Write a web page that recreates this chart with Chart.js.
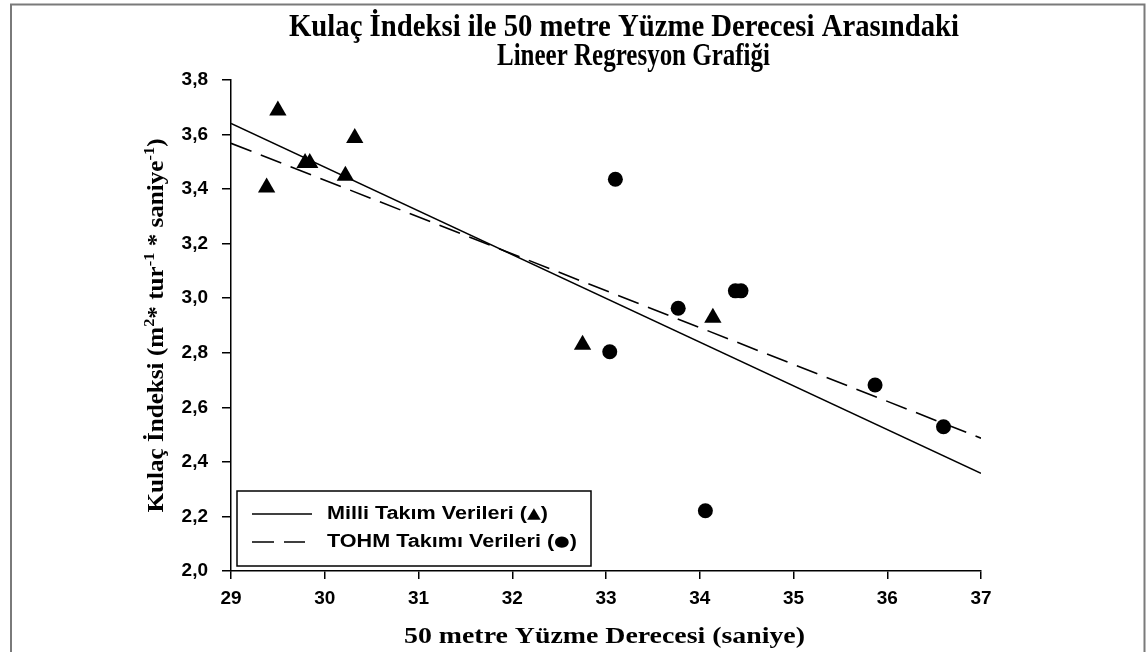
<!DOCTYPE html>
<html lang="tr">
<head>
    <meta charset="UTF-8">
    <title>Kulaç İndeksi - Lineer Regresyon</title>
    <script src="https://cdn.jsdelivr.net/npm/chart.js"></script>
    <style>
        html, body { margin: 0; padding: 0; background: #fff; }
        canvas { display: block; }
    </style>
</head>
<body>
    <canvas id="chart" width="1146" height="652"></canvas>

    <script>
        // Milli Takim (triangles)
        const milliX = [29.38, 29.50, 29.79, 29.84, 30.22, 30.32, 32.75, 34.14];
        const milliY = [3.406, 3.688, 3.496, 3.496, 3.449, 3.587, 2.829, 2.928];
        // TOHM Takimi (circles)
        const tohmX = [33.04, 33.10, 33.77, 34.06, 34.38, 34.44, 35.87, 36.60];
        const tohmY = [2.804, 3.436, 2.963, 2.221, 3.027, 3.027, 2.682, 2.529];
        // regression lines, read at the ends of the x axis
        const fitX = [29, 37];
        const milliFitY = [3.641, 2.358];
        const tohmFitY = [3.568, 2.487];

        const titleLines = ['Kulaç İndeksi ile 50 metre Yüzme Derecesi Arasındaki', 'Lineer Regresyon Grafiği'];
        const xTitle = '50 metre Yüzme Derecesi (saniye)';
        const yTitleParts = [
            ['Kulaç İndeksi (m', 0], ['2', 1], ['* tur', 0], ['-1', 1],
            [' * saniye', 0], ['-1', 1], [')', 0]
        ];
        const legendParts = [
            [['Milli Takım Verileri (', 0], ['▲', 2], [')', 0]],
            [['TOHM Takımı Verileri (', 0], ['●', 2], [')', 0]]
        ];

        const toPoints = (xs, ys) => xs.map((x, i) => ({ x: x, y: ys[i] }));

        // draw text squeezed/stretched to a given width
        function fitText(ctx, text, x, y, width) {
            const w = ctx.measureText(text).width;
            ctx.save();
            ctx.translate(x, y);
            ctx.scale(width / w, 1);
            ctx.textAlign = 'left';
            ctx.fillText(text, 0, 0);
            ctx.restore();
        }

        // mixed-font run, starting at 0 (already translated), scaled to width
        function drawParts(ctx, parts, fonts, offsets, width, centered) {
            let total = 0;
            parts.forEach(p => {
                ctx.font = fonts[p[1]];
                total += ctx.measureText(p[0]).width;
            });
            ctx.save();
            ctx.scale(width / total, 1);
            ctx.textAlign = 'left';
            let pos = centered ? -total / 2 : 0;
            parts.forEach(p => {
                ctx.font = fonts[p[1]];
                ctx.fillText(p[0], pos, offsets[p[1]]);
                pos += ctx.measureText(p[0]).width;
            });
            ctx.restore();
        }

        const decorPlugin = {
            id: 'decor',
            beforeDraw(chart) {
                const ctx = chart.ctx;
                ctx.save();
                ctx.fillStyle = '#fff';
                ctx.fillRect(0, 0, chart.width, chart.height);
                // outer frame (no bottom edge)
                ctx.strokeStyle = '#7a7a7a';
                ctx.lineWidth = 2;
                ctx.beginPath();
                ctx.moveTo(11, 652);
                ctx.lineTo(11, 4.5);
                ctx.lineTo(1144.5, 4.5);
                ctx.lineTo(1144.5, 652);
                ctx.stroke();
                ctx.restore();
            },
            afterDraw(chart) {
                const ctx = chart.ctx;
                const area = chart.chartArea;
                ctx.save();
                ctx.fillStyle = '#000';
                ctx.textBaseline = 'alphabetic';

                // title
                ctx.font = 'bold 31px "Liberation Serif", serif';
                fitText(ctx, titleLines[0], 289, 36, 670);
                fitText(ctx, titleLines[1], 497, 65, 273);

                // x axis title
                ctx.font = 'bold 23px "Liberation Serif", serif';
                fitText(ctx, xTitle, 404, 643, 401);

                // y axis title with superscripts
                ctx.save();
                ctx.translate(163, (area.top + area.bottom) / 2);
                ctx.rotate(-Math.PI / 2);
                drawParts(ctx, yTitleParts,
                    ['bold 23px "Liberation Serif", serif', 'bold 15px "Liberation Serif", serif'],
                    [0, -9], 374, true);
                ctx.restore();

                // legend box
                ctx.strokeStyle = '#000';
                ctx.lineWidth = 1.5;
                ctx.strokeRect(237, 491, 354, 75);
                const rows = [514, 542];
                const widths = [221, 250];
                const legendFonts = ['bold 18px "Liberation Sans", Arial, sans-serif', '', 'bold 15px "DejaVu Sans", sans-serif'];
                [2, 3].forEach((dsIndex, i) => {
                    const ds = chart.data.datasets[dsIndex];
                    ctx.beginPath();
                    ctx.setLineDash(ds.borderDash || []);
                    ctx.lineWidth = ds.borderWidth;
                    ctx.moveTo(252, rows[i]);
                    ctx.lineTo(i === 0 ? 312 : 305, rows[i]);
                    ctx.stroke();
                    ctx.setLineDash([]);
                    ctx.save();
                    ctx.textBaseline = 'middle';
                    ctx.translate(327, rows[i]);
                    drawParts(ctx, legendParts[i], legendFonts, [0, 0, 0], widths[i], false);
                    ctx.restore();
                });
                ctx.restore();
            }
        };

        const tickFont = { family: '"Liberation Sans", Arial, sans-serif', size: 19, weight: 'bold' };

        new Chart(document.getElementById('chart'), {
            type: 'scatter',
            data: {
                datasets: [
                    {
                        label: 'Milli Takım Verileri',
                        data: toPoints(milliX, milliY),
                        pointStyle: 'triangle',
                        pointRadius: 10,
                        backgroundColor: '#000',
                        borderColor: '#000',
                        borderWidth: 0
                    },
                    {
                        label: 'TOHM Takımı Verileri',
                        data: toPoints(tohmX, tohmY),
                        pointStyle: 'circle',
                        pointRadius: 7.5,
                        backgroundColor: '#000',
                        borderColor: '#000',
                        borderWidth: 0
                    },
                    {
                        type: 'line',
                        label: 'Milli fit',
                        data: toPoints(fitX, milliFitY),
                        borderColor: '#000',
                        borderWidth: 1.6,
                        pointRadius: 0,
                        fill: false
                    },
                    {
                        type: 'line',
                        label: 'TOHM fit',
                        data: toPoints(fitX, tohmFitY),
                        borderColor: '#000',
                        borderWidth: 1.6,
                        borderDash: [22, 10],
                        pointRadius: 0,
                        fill: false
                    }
                ]
            },
            options: {
                responsive: false,
                devicePixelRatio: 1,
                animation: false,
                layout: { padding: { top: 80, right: 165, bottom: 0, left: 0 } },
                plugins: {
                    legend: { display: false },
                    title: { display: false },
                    tooltip: { enabled: false }
                },
                scales: {
                    x: {
                        type: 'linear',
                        min: 29,
                        max: 37,
                        afterFit: (scale) => { scale.height = 81; },
                        ticks: {
                            stepSize: 1,
                            color: '#000',
                            font: tickFont,
                            padding: 8
                        },
                        grid: {
                            drawOnChartArea: false,
                            drawTicks: true,
                            tickLength: 8,
                            color: '#000',
                            lineWidth: 1.5
                        },
                        border: { display: true, color: '#000', width: 1.5 }
                    },
                    y: {
                        min: 2,
                        max: 3.8,
                        afterFit: (scale) => { scale.width = 231; },
                        ticks: {
                            stepSize: 0.2,
                            color: '#000',
                            font: tickFont,
                            padding: 14,
                            callback: (v) => v.toFixed(1).replace('.', ',')
                        },
                        grid: {
                            drawOnChartArea: false,
                            drawTicks: true,
                            tickLength: 9,
                            color: '#000',
                            lineWidth: 1.5
                        },
                        border: { display: true, color: '#000', width: 1.5 }
                    }
                }
            },
            plugins: [decorPlugin]
        });
    </script>
</body>
</html>
